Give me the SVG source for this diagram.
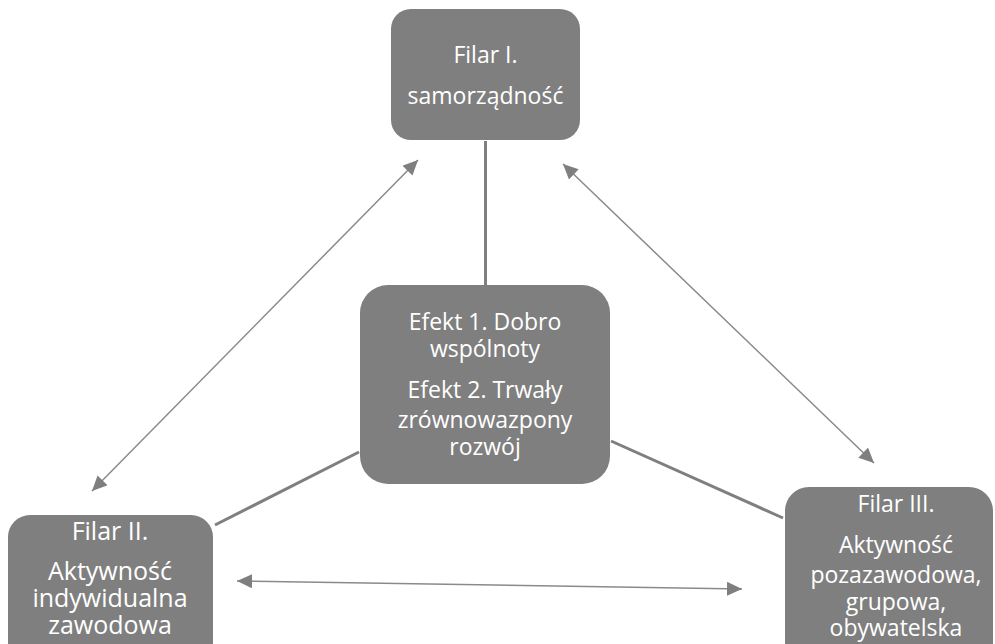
<svg xmlns="http://www.w3.org/2000/svg" width="995" height="644" viewBox="0 0 995 644">
  <style>
    .box { fill: #7f7f7f; }
    .lbl { font-family: "Open Sans", "Noto Sans", "DejaVu Sans", sans-serif; fill: #ffffff; text-anchor: middle; font-size: 23px; }
    .lbl.big { font-size: 25px; }
    .link { stroke: #7f7f7f; stroke-width: 3; fill: none; }
    .arrow { stroke: #8a8a8a; stroke-width: 1.5; fill: none; marker-start: url(#head); marker-end: url(#head); }
  </style>
  <defs>
    <marker id="head" markerUnits="userSpaceOnUse" markerWidth="16" markerHeight="14" viewBox="0 0 16 14" refX="15" refY="7" orient="auto-start-reverse">
      <path d="M0,0 L15,7 L0,14 z" fill="#7f7f7f"/>
    </marker>
  </defs>

  <rect width="995" height="644" fill="#ffffff"/>

  <!-- connectors -->
  <g id="connectors">
    <line class="link" x1="485.5" y1="141" x2="485.5" y2="286"/>
    <line class="link" x1="215" y1="525" x2="359" y2="452"/>
    <line class="link" x1="611" y1="441" x2="783" y2="518"/>
    <line class="arrow" x1="418" y1="160" x2="92" y2="491"/>
    <line class="arrow" x1="563" y1="164" x2="874" y2="463"/>
    <line class="arrow" x1="237" y1="581" x2="742" y2="589"/>
  </g>

  <!-- Filar I -->
  <g id="filar1">
    <rect class="box" x="391" y="9" width="189" height="131" rx="20"/>
    <text class="lbl" x="485.5" y="63">Filar I.</text>
    <text class="lbl" x="485.5" y="104">samorządność</text>
  </g>

  <!-- central effects -->
  <g id="efekty">
    <rect class="box" x="360" y="285" width="250" height="199" rx="28"/>
    <text class="lbl" x="485" y="330">Efekt 1. Dobro</text>
    <text class="lbl" x="485" y="357">wspólnoty</text>
    <text class="lbl" x="485" y="398">Efekt 2. Trwały</text>
    <text class="lbl" x="485" y="428">zrównowazpony</text>
    <text class="lbl" x="485" y="455">rozwój</text>
  </g>

  <!-- Filar II -->
  <g id="filar2">
    <rect class="box" x="8" y="515" width="205" height="150" rx="22"/>
    <text class="lbl big" x="110" y="540">Filar II.</text>
    <text class="lbl big" x="110" y="580">Aktywność</text>
    <text class="lbl big" x="110" y="607">indywidualna</text>
    <text class="lbl big" x="110" y="634">zawodowa</text>
  </g>

  <!-- Filar III -->
  <g id="filar3">
    <rect class="box" x="785" y="487" width="208" height="180" rx="24"/>
    <text class="lbl" x="896" y="512">Filar III.</text>
    <text class="lbl" x="896" y="553">Aktywność</text>
    <text class="lbl" x="896" y="583">pozazawodowa,</text>
    <text class="lbl" x="896" y="610">grupowa,</text>
    <text class="lbl" x="896" y="636">obywatelska</text>
  </g>
</svg>
